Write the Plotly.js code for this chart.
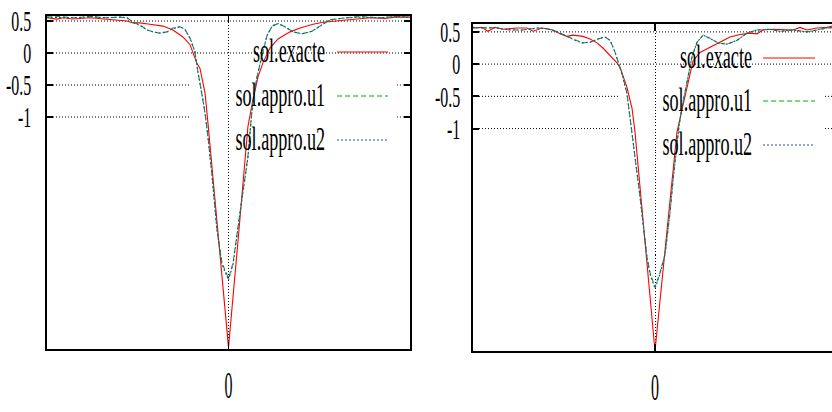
<!DOCTYPE html>
<html>
<head>
<meta charset="utf-8">
<script src="https://cdn.plot.ly/plotly-3.0.1.min.js"></script>
<style>html,body{margin:0;padding:0;background:#fff;}#chart{width:832px;height:412px;}</style>
</head>
<body>
<div id="chart"></div>
<script>
// ---------- data ----------
// Left panel
const leftExactX = [-1.000,-0.945,-0.912,-0.857,-0.763,-0.691,-0.614,-0.559,-0.526,-0.488,-0.433,-0.361,-0.306,-0.251,-0.212,-0.196,-0.174,-0.157,-0.129,-0.113,-0.058,0,0.052,0.107,0.135,0.163,0.190,0.229,0.273,0.339,0.394,0.466,0.521,0.598,0.686,0.780,0.862,0.917,1.0];
const leftExactY = [0.55,0.53,0.55,0.53,0.55,0.53,0.52,0.50,0.47,0.47,0.45,0.42,0.36,0.25,0.13,0.02,-0.16,-0.24,-0.63,-1.10,-2.85,-4.60,-2.95,-1.15,-0.73,-0.37,-0.15,0.08,0.22,0.33,0.39,0.45,0.48,0.50,0.53,0.55,0.54,0.56,0.56];

const leftU1X = [-1.0,-0.928,-0.846,-0.763,-0.680,-0.598,-0.559,-0.526,-0.488,-0.449,-0.416,-0.377,-0.339,-0.306,-0.267,-0.240,-0.212,-0.185,-0.168,-0.146,-0.129,-0.113,-0.091,-0.063,-0.036,0,0.025,0.063,0.091,0.107,0.118,0.135,0.157,0.185,0.212,0.240,0.273,0.311,0.355,0.405,0.460,0.504,0.559,0.653,0.725,0.835,0.917,1.0];
const leftU1Y = [0.56,0.57,0.55,0.57,0.55,0.56,0.55,0.48,0.44,0.36,0.33,0.31,0.33,0.39,0.41,0.37,0.23,0.02,-0.30,-0.63,-0.94,-1.31,-1.90,-2.77,-3.28,-3.52,-3.28,-2.50,-1.95,-1.62,-1.25,-0.73,-0.37,-0.02,0.27,0.42,0.46,0.41,0.33,0.30,0.34,0.42,0.52,0.55,0.57,0.55,0.57,0.56];

const leftU2X = [-1.0,-0.928,-0.846,-0.763,-0.680,-0.598,-0.559,-0.526,-0.488,-0.449,-0.416,-0.377,-0.339,-0.306,-0.267,-0.240,-0.212,-0.185,-0.168,-0.146,-0.129,-0.113,-0.091,-0.063,-0.036,0,0.025,0.063,0.091,0.107,0.118,0.135,0.157,0.185,0.212,0.240,0.273,0.311,0.355,0.405,0.460,0.504,0.559,0.653,0.725,0.835,0.917,1.0];
const leftU2Y = [0.56,0.56,0.55,0.57,0.55,0.56,0.55,0.48,0.43,0.36,0.33,0.31,0.33,0.38,0.41,0.37,0.23,0.02,-0.31,-0.64,-0.95,-1.32,-1.91,-2.78,-3.30,-3.55,-3.30,-2.51,-1.96,-1.63,-1.26,-0.74,-0.38,-0.02,0.27,0.42,0.46,0.41,0.33,0.30,0.34,0.42,0.52,0.55,0.56,0.55,0.57,0.56];

// Right panel
const rightExactX = [-1.0,-0.951,-0.918,-0.879,-0.835,-0.758,-0.703,-0.670,-0.621,-0.560,-0.522,-0.484,-0.451,-0.396,-0.357,-0.319,-0.286,-0.247,-0.209,-0.192,-0.154,-0.126,-0.110,-0.055,0,0.060,0.121,0.148,0.176,0.192,0.209,0.247,0.302,0.357,0.412,0.467,0.522,0.560,0.593,0.648,0.703,0.758,0.797,0.835,0.890,0.945,1.0];
const rightExactY = [0.56,0.57,0.51,0.57,0.54,0.56,0.56,0.51,0.56,0.53,0.47,0.43,0.45,0.43,0.39,0.33,0.25,0.14,0.02,-0.05,-0.36,-0.69,-1.05,-2.75,-4.45,-2.75,-1.05,-0.71,-0.36,-0.12,0.05,0.18,0.26,0.34,0.42,0.46,0.48,0.47,0.53,0.54,0.53,0.53,0.57,0.53,0.56,0.57,0.60];

const rightU1X = [-1.0,-0.962,-0.923,-0.868,-0.797,-0.725,-0.648,-0.593,-0.538,-0.484,-0.440,-0.401,-0.357,-0.313,-0.275,-0.247,-0.220,-0.203,-0.176,-0.154,-0.137,-0.121,-0.110,-0.082,-0.044,-0.027,0,0.027,0.055,0.082,0.099,0.121,0.132,0.148,0.176,0.203,0.231,0.264,0.302,0.346,0.396,0.451,0.505,0.560,0.632,0.687,0.758,0.835,0.890,0.945,1.0];
const rightU1Y = [0.57,0.56,0.57,0.56,0.53,0.53,0.56,0.55,0.50,0.43,0.37,0.33,0.34,0.39,0.42,0.37,0.19,0.05,-0.20,-0.45,-0.82,-1.18,-1.44,-2.06,-2.99,-3.24,-3.46,-3.24,-2.95,-2.31,-1.80,-1.20,-0.95,-0.67,-0.25,0.11,0.34,0.45,0.40,0.33,0.31,0.37,0.48,0.53,0.54,0.51,0.53,0.50,0.53,0.56,0.57];

const rightU2X = [-1.0,-0.962,-0.923,-0.868,-0.797,-0.725,-0.648,-0.593,-0.538,-0.484,-0.440,-0.401,-0.357,-0.313,-0.275,-0.247,-0.220,-0.203,-0.176,-0.154,-0.137,-0.121,-0.110,-0.082,-0.044,-0.027,0,0.027,0.055,0.082,0.099,0.121,0.132,0.148,0.176,0.203,0.231,0.264,0.302,0.346,0.396,0.451,0.505,0.560,0.632,0.687,0.758,0.835,0.890,0.945,1.0];
const rightU2Y = [0.57,0.56,0.56,0.56,0.53,0.53,0.56,0.55,0.50,0.43,0.37,0.33,0.34,0.39,0.42,0.37,0.19,0.04,-0.21,-0.46,-0.83,-1.19,-1.45,-2.07,-3.01,-3.26,-3.48,-3.26,-2.96,-2.32,-1.81,-1.21,-0.96,-0.68,-0.26,0.11,0.34,0.45,0.40,0.33,0.31,0.37,0.48,0.53,0.54,0.51,0.53,0.50,0.53,0.56,0.57];

// tick labels and legend names
const yTickVals = [0.5, 0, -0.5, -1];
const yTickText = ['0.5', '0', '-0.5', '-1'];
const xTickVals = [0];
const xTickText = ['0'];
const seriesNames = ['sol.exacte', 'sol.appro.u1', 'sol.appro.u2'];

// ---------- styles ----------
const colors = ['#ff0000', '#00b000', '#2848c0'];
const dashes = ['solid', '5px,3px', '2px,2px'];

function tr(x, y, i, xa, ya) {
  return {x: x, y: y, xaxis: xa, yaxis: ya, type: 'scatter', mode: 'lines', name: seriesNames[i],
          line: {color: colors[i], width: 1.1, dash: dashes[i]}, showlegend: false, hoverinfo: 'skip'};
}
const data = [
  tr(leftExactX, leftExactY, 0, 'x', 'y'),
  tr(leftU1X, leftU1Y, 1, 'x', 'y'),
  tr(leftU2X, leftU2Y, 2, 'x', 'y'),
  tr(rightExactX, rightExactY, 0, 'x2', 'y2'),
  tr(rightU1X, rightU1Y, 1, 'x2', 'y2'),
  tr(rightU2X, rightU2Y, 2, 'x2', 'y2')
];

const W = 832, H = 412;
const baseX = {
  tickvals: xTickVals, ticktext: xTickText, showgrid: true, gridcolor: '#000', gridwidth: 1, griddash: '1px,2px',
  zeroline: false, showline: true, linewidth: 2, linecolor: '#000', mirror: 'ticks', ticks: 'inside',
  ticklen: 7, tickwidth: 1.5, tickcolor: '#000', tickfont: {family: 'Liberation Serif', size: 38, color: '#000'},
  ticklabelstandoff: 1, fixedrange: true
};
const baseY = {
  tickvals: yTickVals, ticktext: yTickText, showgrid: false, zeroline: false, showline: true, linewidth: 2,
  linecolor: '#000', ticks: 'inside', ticklen: 6, tickwidth: 2, tickcolor: '#000',
  tickfont: {family: 'Liberation Serif', size: 29, color: '#000'}, ticklabelstandoff: 8, fixedrange: true
};

const layout = {
  width: W, height: H, margin: {l: 0, r: 0, t: 0, b: 0}, showlegend: false,
  paper_bgcolor: '#fff', plot_bgcolor: '#fff', font: {family: 'Liberation Serif', color: '#000'},
  xaxis: Object.assign({}, baseX, {domain: [47 / W, 410 / W], range: [-1, 1], anchor: 'y'}),
  yaxis: Object.assign({}, baseY, {domain: [1 - 349 / H, 1 - 16 / H], range: [-4.625, 0.578], anchor: 'x', mirror: 'ticks'}),
  xaxis2: Object.assign({}, baseX, {domain: [473 / W, 1], range: [-1, (832 - 655) / 182], anchor: 'y2'}),
  yaxis2: Object.assign({}, baseY, {domain: [1 - 351 / H, 1 - 23.5 / H], range: [-4.45, 0.63], anchor: 'x2', mirror: false, ticklabelstandoff: 5}),
  shapes: [], annotations: []
};

// horizontal dotted grid lines, interrupted where the key sits
function grid(xa, ya, yv, segs) {
  segs.forEach(s => layout.shapes.push({type: 'line', xref: xa, yref: ya, x0: s[0], x1: s[1], y0: yv, y1: yv,
    layer: 'below', line: {color: '#000', width: 1, dash: '1px,2px'}}));
}
yTickVals.forEach((v, i) => {
  if (i < 2) { grid('x', 'y', v, [[-1, 1]]); grid('x2', 'y2', v, [[-1, 0.9725]]); }
  else { grid('x', 'y', v, [[-1, -0.212], [0.928, 1]]); grid('x2', 'y2', v, [[-1, -0.203], [0.934, 0.9725]]); }
});

// key: text right-aligned, sample line on its right
function key(textRight, x0, x1, ys) {
  seriesNames.forEach((n, i) => {
    layout.annotations.push({xref: 'paper', yref: 'paper', x: textRight / W, y: 1 - (ys[i] - 1) / H,
      xanchor: 'right', yanchor: 'middle', align: 'right', showarrow: false, text: n,
      font: {family: 'Liberation Serif', size: 33, color: '#000'}, borderpad: 0});
    layout.shapes.push({type: 'line', xref: 'paper', yref: 'paper', x0: x0 / W, x1: x1 / W,
      y0: 1 - ys[i] / H, y1: 1 - ys[i] / H, line: {color: colors[i], width: 1.2, dash: dashes[i]}});
  });
}
key(326, 337, 388, [52, 96, 140]);
key(753, 763, 815, [58, 101, 145]);

Plotly.newPlot('chart', data, layout, {staticPlot: true, displayModeBar: false}).then(gd => {
  const squeeze = (sel, f) => gd.querySelectorAll(sel).forEach(t => {
    const w = t.getComputedTextLength();
    t.setAttribute('textLength', (w * f).toFixed(1));
    t.setAttribute('lengthAdjust', 'spacingAndGlyphs');
  });
  squeeze('.xtick text, .x2tick text', 0.42);
  squeeze('.ytick text, .y2tick text', 0.55);
  squeeze('.annotation-text', 0.55);
});
</script>
</body>
</html>
